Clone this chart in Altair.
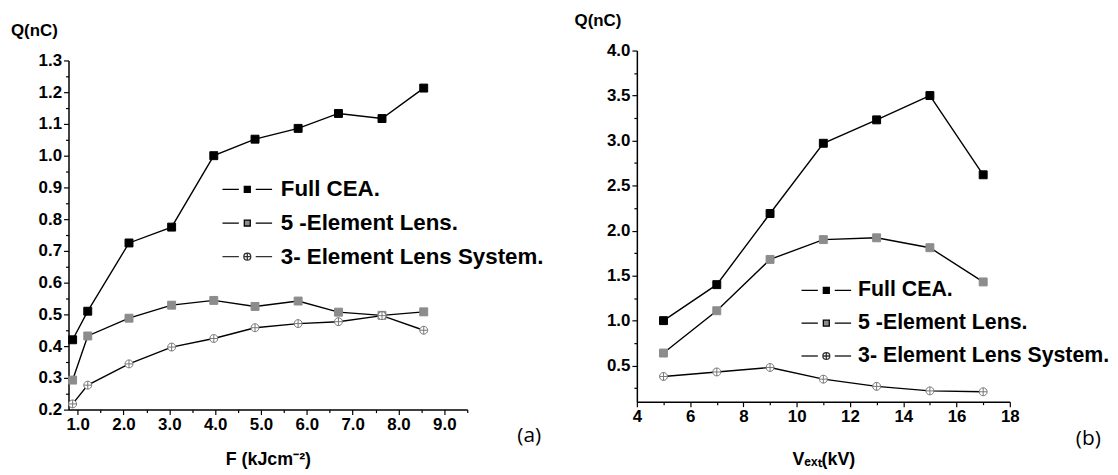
import altair as alt
import pandas as pd

SERIES = ["Full CEA.", "5 -Element Lens.", "3- Element Lens System."]

# Panel (a): charge vs fluence
F_KJ = [0.89, 1.22, 2.12, 3.05, 3.97, 4.87, 5.81, 6.69, 7.64, 8.55]
Q_F_FULL = [0.42, 0.51, 0.725, 0.775, 1.0, 1.052, 1.086, 1.133, 1.117, 1.213]
Q_F_5EL = [0.293, 0.432, 0.488, 0.529, 0.544, 0.525, 0.542, 0.507, 0.497, 0.508]
Q_F_3EL = [0.218, 0.277, 0.344, 0.397, 0.424, 0.458, 0.471, 0.477, 0.496, 0.45]

# Panel (b): charge vs extraction voltage
V_EXT = [5, 7, 9, 11, 13, 15, 17]
Q_V_FULL = [1.0, 1.40, 2.19, 2.97, 3.23, 3.50, 2.62]
Q_V_5EL = [0.64, 1.11, 1.68, 1.90, 1.92, 1.81, 1.43]
Q_V_3EL = [0.38, 0.43, 0.48, 0.35, 0.27, 0.22, 0.21]

# tick positions (major + minor)
A_X_TICKS = [1.0, 1.5, 2.0, 2.5, 3.0, 3.5, 4.0, 4.5, 5.0, 5.5, 6.0, 6.5, 7.0, 7.5, 8.0, 8.5, 9.0, 9.5]
A_Y_TICKS = [0.2, 0.25, 0.3, 0.35, 0.4, 0.45, 0.5, 0.55, 0.6, 0.65, 0.7, 0.75, 0.8, 0.85,
             0.9, 0.95, 1.0, 1.05, 1.1, 1.15, 1.2, 1.25, 1.3]
B_X_TICKS = [4, 5, 6, 7, 8, 9, 10, 11, 12, 13, 14, 15, 16, 17, 18]
B_Y_TICKS = [0.25, 0.5, 0.75, 1.0, 1.25, 1.5, 1.75, 2.0, 2.25, 2.5, 2.75, 3.0, 3.25, 3.5, 3.75, 4.0]

FONT = "Liberation Sans"
CIRCLE_CROSS = "M-1,0A1,1,0,1,0,1,0A1,1,0,1,0,-1,0ZM-1,0H1M0,-1V1"
# legend symbols: line - marker - line
LEG_SQUARE = "M-2.5,0H-0.85M0.85,0H2.5M-0.3,-0.3H0.3V0.3H-0.3Z"
LEG_CIRCLE = ("M-2.5,0H-0.85M0.85,0H2.5M-0.35,0A0.35,0.35,0,1,0,0.35,0"
              "A0.35,0.35,0,1,0,-0.35,0ZM-0.35,0H0.35M0,-0.35V0.35")


def panel(xs, series_vals, c):
    rows = [{"x": x, "y": y, "series": s}
            for s, ys in zip(SERIES, series_vals) for x, y in zip(xs, ys)]
    df = pd.DataFrame(rows)
    top = c["top"]  # unused strip above the plot's y range
    xscale = alt.Scale(domain=c["xdom"], nice=False, zero=False)
    yscale = alt.Scale(domain=c["ydom"], range=[c["h"], top], nice=False, zero=False)
    xaxis = alt.Axis(values=c["xticks"], labelExpr=c["xlabel"],
                     tickSize={"condition": {"test": c["xmajor"], "value": 5}, "value": 3},
                     title=c["xtitle"], titlePadding=c["xtp"],
                     labelFlush=False, labelOverlap=False)
    yaxis = alt.Axis(values=c["yticks"], labelExpr=c["ylabel"],
                     tickSize={"condition": {"test": c["ymajor"], "value": 5}, "value": 3},
                     title="Q(nC)", titleAngle=0, titleAlign="left", titleBaseline="middle",
                     titleX=c["qx"], titleY=top - 30.5, titleFontSize=17,
                     labelFlush=False, labelOverlap=False)
    tagaxis = alt.Axis(orient="right", domain=False, ticks=False, labels=False,
                       title=c["tag"], titleAngle=0, titleAlign="left",
                       titleBaseline="middle", titleX=c["tagx"], titleY=top + c["tagy"],
                       titleFont="Open Sans", titleFontWeight="normal",
                       titleFontSize=21, grid=False)
    leg = alt.Legend(orient="none", legendX=c["legx"], legendY=top + c["legy"],
                     direction="vertical", title=None, padding=0,
                     symbolSize=400, symbolStrokeWidth=1.3,
                     labelFont=FONT, labelFontWeight="bold",
                     labelFontSize=c["legfs"], labelColor="black",
                     labelOffset=c["labOff"], rowPadding=c["rowpad"], labelLimit=500)

    lines = alt.Chart(df).mark_line(color="black", strokeWidth=1.4).encode(
        x=alt.X("x:Q", scale=xscale, axis=xaxis),
        y=alt.Y("y:Q", scale=yscale, axis=yaxis),
        detail="series:N",
    )
    points = alt.Chart(df).mark_point(filled=True, opacity=1, size=64, strokeWidth=1).encode(
        x=alt.X("x:Q", scale=xscale, axis=None),
        y=alt.Y("y:Q", scale=yscale, axis=tagaxis),
        shape=alt.Shape("series:N", scale=alt.Scale(domain=SERIES, range=["square", "square", CIRCLE_CROSS]),
                        legend=None),
        fill=alt.Fill("series:N", scale=alt.Scale(domain=SERIES, range=["black", "#8c8c8c", "white"]),
                      legend=None),
        stroke=alt.Stroke("series:N", scale=alt.Scale(domain=SERIES, range=["black", "#8c8c8c", "#777777"]),
                          legend=None),
    )
    legend_only = alt.Chart(df).transform_filter("false").mark_point(
        filled=True, opacity=1, strokeWidth=1.3).encode(
        shape=alt.Shape("series:N", scale=alt.Scale(domain=SERIES, range=[LEG_SQUARE, LEG_SQUARE, LEG_CIRCLE]),
                        legend=leg),
        fill=alt.Fill("series:N", scale=alt.Scale(domain=SERIES, range=["black", "#8c8c8c", "white"]),
                      legend=leg),
        stroke=alt.Stroke("series:N", scale=alt.Scale(domain=SERIES, range=["black", "black", "#333333"]),
                          legend=leg),
    )
    return alt.layer(lines, points, legend_only).resolve_axis(
        x="independent", y="independent"
    ).resolve_scale(
        shape="independent", fill="independent", stroke="independent"
    ).properties(width=c["w"], height=c["h"])


left = panel(F_KJ, [Q_F_FULL, Q_F_5EL, Q_F_3EL], dict(
    xdom=[0.8, 9.5], ydom=[0.2, 1.3], xticks=A_X_TICKS, yticks=A_Y_TICKS,
    xlabel="round(datum.value*10) % 10 == 0 ? format(datum.value, '.1f') : ''",
    xmajor="round(datum.value*10) % 10 == 0",
    ylabel="round(datum.value*100) % 10 == 0 ? format(datum.value, '.1f') : ''",
    ymajor="round(datum.value*100) % 10 == 0",
    xtitle="F (kJcm\u207b\u00b2)", xtp=18,
    tag="(a)", tagx=50, tagy=378, qx=-58.5,
    legx=169, legy=118.75, legfs=22.5, labOff=22.5, rowpad=10.9,
    w=402, h=362, top=10,
))

right = panel(V_EXT, [Q_V_FULL, Q_V_5EL, Q_V_3EL], dict(
    xdom=[4, 18], ydom=[0.1, 4.0], xticks=B_X_TICKS, yticks=B_Y_TICKS,
    xlabel="datum.value % 2 == 0 ? format(datum.value, 'd') : ''",
    xmajor="datum.value % 2 == 0",
    ylabel="round(datum.value*100) % 50 == 0 ? format(datum.value, '.1f') : ''",
    ymajor="round(datum.value*100) % 50 == 0",
    xtitle="V\u2091\u2093\u209c(kV)", xtp=26,
    tag="(b)", tagx=66, tagy=391, qx=-63.3,
    legx=180, legy=230.75, legfs=21.5, labOff=21, rowpad=11.1,
    w=376, h=354, top=0,
))

chart = alt.hconcat(left, right, spacing=29).properties(
    padding={"left": 2, "top": 1, "right": 0, "bottom": 0},
    background="white",
).configure_view(stroke=None).configure_axis(
    domainColor="black", domainWidth=1.5, tickColor="black", tickWidth=1.2,
    labelFont=FONT, labelFontWeight="bold", labelFontSize=17, labelColor="black",
    labelPadding=2, titleFont=FONT, titleFontWeight="bold", titleFontSize=18,
    titleColor="black", grid=False,
)

chart.save("out.html", embed_options={"renderer": "svg", "actions": False})
